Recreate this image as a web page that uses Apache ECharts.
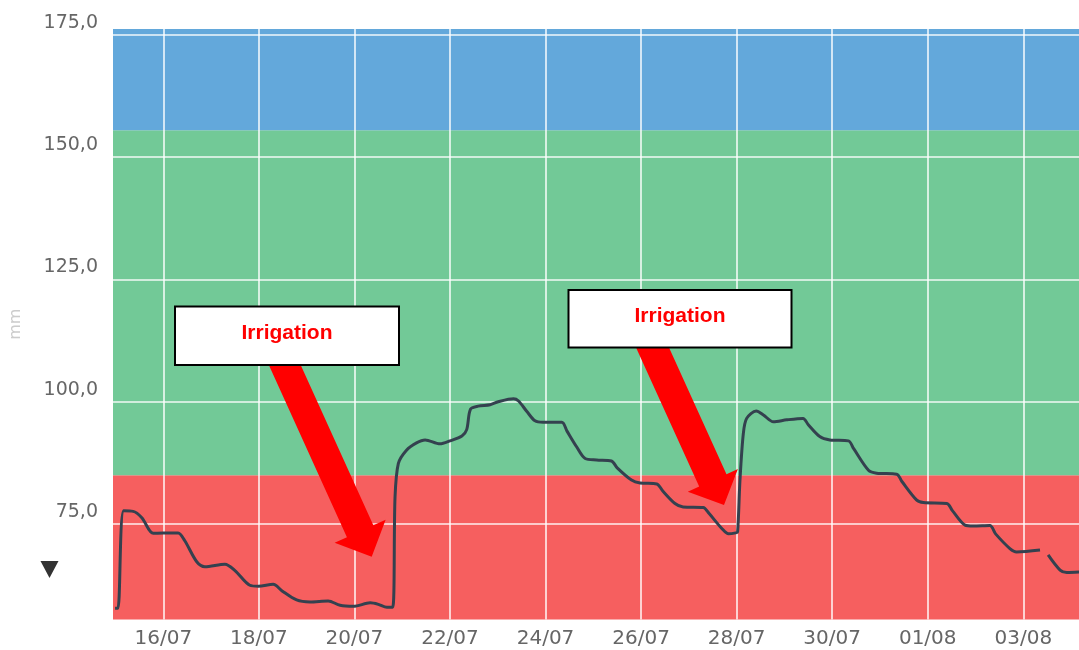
<!DOCTYPE html>
<html><head><meta charset="utf-8">
<script src="https://cdn.jsdelivr.net/npm/echarts@6/dist/echarts.min.js"></script>
<style>html,body{margin:0;padding:0;background:#fff}#c{width:1079px;height:650px}</style>
</head><body><div id="c"></div>
<script>
// x = day of July (32 = 01/08)
const days = [14.99,15.05,15.17,15.37,15.55,15.79,16.00,16.31,16.45,16.70,16.87,17.29,17.50,17.81,17.99,18.30,18.48,18.79,19.07,19.45,19.70,19.98,20.33,20.50,20.68,20.80,
  20.85,20.92,21.09,21.30,21.48,21.79,22.00,22.25,22.35,22.43,22.59,22.84,23.01,23.33,23.43,23.61,23.78,23.95,24.34,24.45,24.65,24.83,25.07,25.38,25.50,25.80,25.98,26.33,26.45,26.71,26.88,27.30,27.42,27.69,27.83,27.98,
  28.02,28.07,28.14,28.21,28.41,28.56,28.77,29.05,29.39,29.50,29.74,29.95,30.34,30.45,30.76,30.93,31.35,31.46,31.77,31.91,32.40,32.52,32.78,32.95,33.30,33.42,33.72,33.86,34.35,34.43,34.52,34.77,34.91,35.17];
const moisture = [57.8,57.8,77.7,77.6,76.3,73.1,73.2,73.2,71.6,67.3,66.3,66.8,65.5,62.5,62.3,62.7,61.4,59.5,59.1,59.3,58.4,58.2,58.9,58.6,58.0,58.0,
  80.5,87.4,90.1,91.6,92.2,91.4,92.0,93.0,94.3,98.5,99.1,99.4,100.0,100.6,100.2,98.0,96.1,95.8,95.8,94.0,90.8,88.4,88.1,87.9,86.5,84.0,83.4,83.2,81.8,79.2,78.5,78.4,77.2,74.1,73.0,73.2,
  73.4,84.0,93.5,96.6,98.1,97.3,95.9,96.3,96.6,95.3,92.9,92.2,92.0,90.4,86.0,85.4,85.2,83.7,79.9,79.4,79.2,77.7,74.8,74.6,74.7,73.0,70.0,69.3,69.7,null,68.7,65.6,65.1,65.2];
const xTickDays = [16,18,20,22,24,26,28,30,32,34];
const xTickLabels = ['16/07','18/07','20/07','22/07','24/07','26/07','28/07','30/07','01/08','03/08'];
const yTickValues = [75,100,125,150,175];
const bandLower = [0, 85, 155.5];
const bandUpper = [85, 155.5, 200];
const annotationText = ['Irrigation','Irrigation'];

const X_MIN = 14.947, X_MAX = 35.166, Y_MIN = 55.5, Y_MAX = 176.17;
const bandColors = ['#f65f5f','#72c997','#63a8db'];

function arrow(sx, sy, tx, ty, sh, hl, hh) {
  const dx = tx - sx, dy = ty - sy, L = Math.hypot(dx, dy);
  const ux = dx / L, uy = dy / L, nx = -uy, ny = ux;
  const bx = tx - ux * hl, by = ty - uy * hl;
  return [
    [sx + nx * sh, sy + ny * sh],
    [bx + nx * sh, by + ny * sh],
    [bx + nx * hh, by + ny * hh],
    [tx, ty],
    [bx - nx * hh, by - ny * hh],
    [bx - nx * sh, by - ny * sh],
    [sx - nx * sh, sy - ny * sh]
  ];
}

const chart = echarts.init(document.getElementById('c'), null, {renderer: 'canvas'});
const axisFont = {fontFamily: 'DejaVu Sans', fontSize: 19, color: '#666666'};

chart.setOption({
  animation: false,
  backgroundColor: '#ffffff',
  grid: {left: 113, right: 0, top: 29, bottom: 30.5, containLabel: false},
  xAxis: {
    type: 'value', min: X_MIN, max: X_MAX, z: 2,
    axisLine: {show: false},
    axisTick: {show: false, customValues: xTickDays},
    axisLabel: Object.assign({}, axisFont, {
      fontSize: 20, margin: 9, customValues: xTickDays,
      formatter: v => xTickLabels[xTickDays.indexOf(Math.round(v))]
    }),
    splitLine: {show: true, lineStyle: {color: 'rgba(255,255,255,0.9)', width: 1.6}}
  },
  yAxis: {
    type: 'value', min: Y_MIN, max: Y_MAX, z: 2,
    name: 'mm', nameLocation: 'middle', nameGap: 89,
    nameTextStyle: {color: '#cccccc', fontSize: 16, fontFamily: 'DejaVu Sans'},
    axisLine: {show: false},
    axisTick: {show: false, customValues: yTickValues},
    axisLabel: Object.assign({}, axisFont, {
      margin: 15, customValues: yTickValues, verticalAlign: 'bottom', lineHeight: 24,
      formatter: v => v.toFixed(1).replace('.', ',')
    }),
    splitLine: {show: true, lineStyle: {color: 'rgba(255,255,255,0.9)', width: 1.6}}
  },
  series: [
    {
      type: 'custom', z: 1, silent: true,
      data: bandLower.map((lo, i) => [X_MIN, lo, bandUpper[i]]),
      encode: {x: 0, y: [1, 2]},
      renderItem: function (params, api) {
        const cs = params.coordSys;
        let y1 = api.coord([X_MIN, api.value(2)])[1];
        let y2 = api.coord([X_MIN, api.value(1)])[1];
        y1 = Math.max(y1, cs.y); y2 = Math.min(y2, cs.y + cs.height);
        return {type: 'rect', shape: {x: cs.x, y: y1, width: cs.width, height: y2 - y1},
                style: {fill: bandColors[params.dataIndex]}};
      }
    },
    {
      type: 'line', z: 3, showSymbol: false, smooth: 0.3, connectNulls: false,
      data: days.map((d, i) => [d, moisture[i]]),
      lineStyle: {color: '#34414f', width: 3}
    }
  ],
  graphic: [
    {type: 'polygon', z: 100, shape: {points: arrow(282.5, 360, 371.7, 556.7, 14.5, 28, 28)}, style: {fill: '#ff0000'}},
    {type: 'polygon', z: 100, shape: {points: arrow(650, 342, 724, 505, 15, 27, 27.5)}, style: {fill: '#ff0000'}},
    {type: 'rect', z: 101, shape: {x: 175, y: 306.5, width: 224, height: 58.5}, style: {fill: '#ffffff', stroke: '#000000', lineWidth: 2}},
    {type: 'text', z: 102, x: 287, y: 333, style: {text: annotationText[0], fill: '#ff0000', font: 'bold 21px "Liberation Sans"', align: 'center', verticalAlign: 'middle'}},
    {type: 'rect', z: 101, shape: {x: 568.5, y: 290, width: 223, height: 57.5}, style: {fill: '#ffffff', stroke: '#000000', lineWidth: 2}},
    {type: 'text', z: 102, x: 680, y: 316, style: {text: annotationText[1], fill: '#ff0000', font: 'bold 21px "Liberation Sans"', align: 'center', verticalAlign: 'middle'}},
    {type: 'polygon', z: 100, shape: {points: [[40.5, 561], [58.5, 561], [49.5, 578]]}, style: {fill: '#333333'}}
  ]
});
</script></body></html>
